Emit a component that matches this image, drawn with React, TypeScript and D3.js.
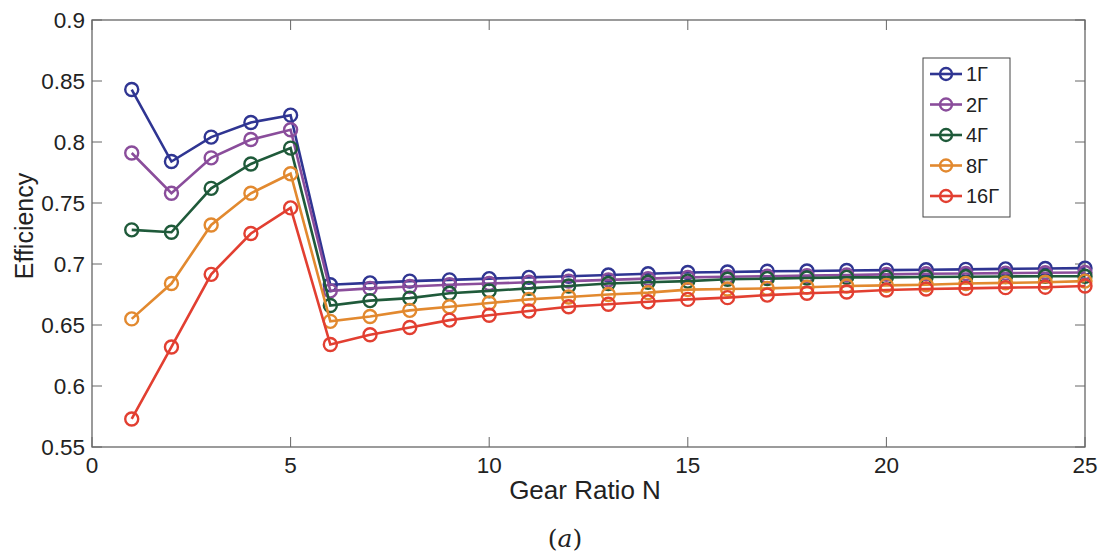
import * as d3 from 'd3';
import { useEffect, useRef } from 'react';

const gearRatios = d3.range(1, 26);

const eff1 = [0.843, 0.784, 0.804, 0.816, 0.822, 0.683, 0.6845, 0.686, 0.687, 0.688, 0.689, 0.69, 0.691, 0.692, 0.693, 0.6935, 0.694, 0.6943, 0.6947, 0.695, 0.6953, 0.6956, 0.696, 0.6963, 0.6966];
const eff2 = [0.791, 0.758, 0.787, 0.802, 0.81, 0.678, 0.68, 0.6815, 0.683, 0.684, 0.685, 0.686, 0.687, 0.688, 0.689, 0.6895, 0.69, 0.6905, 0.691, 0.6915, 0.692, 0.6922, 0.6925, 0.6928, 0.693];
const eff4 = [0.728, 0.726, 0.762, 0.782, 0.795, 0.666, 0.67, 0.672, 0.676, 0.678, 0.68, 0.682, 0.684, 0.685, 0.686, 0.6875, 0.688, 0.6885, 0.689, 0.689, 0.6893, 0.6895, 0.6898, 0.69, 0.69];
const eff8 = [0.655, 0.684, 0.732, 0.758, 0.774, 0.653, 0.657, 0.662, 0.665, 0.668, 0.671, 0.673, 0.675, 0.6765, 0.679, 0.6795, 0.68, 0.681, 0.682, 0.6825, 0.683, 0.684, 0.6845, 0.685, 0.686];
const eff16 = [0.573, 0.632, 0.6915, 0.725, 0.746, 0.634, 0.642, 0.648, 0.654, 0.658, 0.6615, 0.665, 0.667, 0.669, 0.671, 0.6724, 0.6745, 0.676, 0.677, 0.6787, 0.6795, 0.68, 0.6806, 0.681, 0.682];

const seriesNames = ['1Γ', '2Γ', '4Γ', '8Γ', '16Γ'];
const seriesValues = [eff1, eff2, eff4, eff8, eff16];
const seriesColors = ['#2f3592', '#8a4d9b', '#1f5a3a', '#e2892f', '#e23f31'];

const xTicks = [0, 5, 10, 15, 20, 25];
const yTicks = [0.55, 0.6, 0.65, 0.7, 0.75, 0.8, 0.85, 0.9];

const W = 1101;
const H = 560;
const left = 92;
const right = 1085;
const top = 20;
const bottom = 447;

export default function App() {
  const svgRef = useRef<SVGSVGElement>(null);

  useEffect(() => {
    const svg = d3.select(svgRef.current);
    svg.selectAll('*').remove();

    const x = d3.scaleLinear().domain([0, 25]).range([left, right]);
    const y = d3.scaleLinear().domain([0.55, 0.9]).range([bottom, top]);
    const font = 'Arial, "Liberation Sans", Helvetica, sans-serif';

    // box
    svg.append('rect')
      .attr('x', left).attr('y', top)
      .attr('width', right - left).attr('height', bottom - top)
      .attr('fill', 'none').attr('stroke', '#666').attr('stroke-width', 1.3);

    // inward ticks on all four sides (matlab style)
    const tk = 10;
    xTicks.forEach((t) => {
      svg.append('line').attr('x1', x(t)).attr('x2', x(t)).attr('y1', bottom).attr('y2', bottom - tk)
        .attr('stroke', '#666').attr('stroke-width', 1);
      svg.append('line').attr('x1', x(t)).attr('x2', x(t)).attr('y1', top).attr('y2', top + tk)
        .attr('stroke', '#666').attr('stroke-width', 1);
      svg.append('text').attr('x', x(t)).attr('y', bottom + 26)
        .attr('text-anchor', 'middle').attr('font-family', font).attr('font-size', 22.5)
        .attr('fill', '#222').text(d3.format('d')(t));
    });
    yTicks.forEach((t) => {
      svg.append('line').attr('x1', left).attr('x2', left + tk).attr('y1', y(t)).attr('y2', y(t))
        .attr('stroke', '#666').attr('stroke-width', 1);
      svg.append('line').attr('x1', right).attr('x2', right - tk).attr('y1', y(t)).attr('y2', y(t))
        .attr('stroke', '#666').attr('stroke-width', 1);
      svg.append('text').attr('x', left - 7).attr('y', y(t) + 8)
        .attr('text-anchor', 'end').attr('font-family', font).attr('font-size', 22.5)
        .attr('fill', '#222').text(String(t));
    });

    // axis labels
    svg.append('text').attr('x', 585).attr('y', 499)
      .attr('text-anchor', 'middle').attr('font-family', font).attr('font-size', 26)
      .attr('fill', '#222').text('Gear Ratio N');
    svg.append('text').attr('transform', `translate(33, 226) rotate(-90)`)
      .attr('text-anchor', 'middle').attr('font-family', font).attr('font-size', 25)
      .attr('fill', '#222').text('Efficiency');
    svg.append('text').attr('x', 565).attr('y', 547)
      .attr('text-anchor', 'middle').attr('font-family', '"DejaVu Serif", serif').attr('font-size', 25)
      .attr('fill', '#222')
      .call((t) => {
        t.append('tspan').text('(');
        t.append('tspan').attr('font-style', 'italic').text('a');
        t.append('tspan').text(')');
      });

    const line = d3.line<number>()
      .x((_, i) => x(gearRatios[i]))
      .y((d) => y(d));

    seriesValues.forEach((vals, si) => {
      const g = svg.append('g');
      g.append('path').attr('d', line(vals))
        .attr('fill', 'none').attr('stroke', seriesColors[si]).attr('stroke-width', 2.6);
      g.selectAll('circle').data(vals).join('circle')
        .attr('cx', (_, i) => x(gearRatios[i]))
        .attr('cy', (d) => y(d))
        .attr('r', 6.5)
        .attr('fill', 'none')
        .attr('stroke', seriesColors[si])
        .attr('stroke-width', 2.4);
    });

    // legend
    const lg = svg.append('g');
    lg.append('rect').attr('x', 923).attr('y', 58).attr('width', 87).attr('height', 159)
      .attr('fill', 'white').attr('stroke', '#444').attr('stroke-width', 1);
    seriesNames.forEach((name, i) => {
      const ly = 74 + i * 30.5;
      lg.append('line').attr('x1', 930).attr('x2', 962).attr('y1', ly).attr('y2', ly)
        .attr('stroke', seriesColors[i]).attr('stroke-width', 2.6);
      lg.append('circle').attr('cx', 946).attr('cy', ly).attr('r', 6)
        .attr('fill', 'none').attr('stroke', seriesColors[i]).attr('stroke-width', 2.4);
      lg.append('text').attr('x', 966).attr('y', ly + 7)
        .attr('font-family', font).attr('font-size', 20).attr('fill', '#222').text(name);
    });
  }, []);

  return (
    <div style={{ position: 'absolute', left: 0, top: 0 }}>
      <svg ref={svgRef} width={W} height={H} style={{ display: 'block', background: 'white' }} />
    </div>
  );
}
